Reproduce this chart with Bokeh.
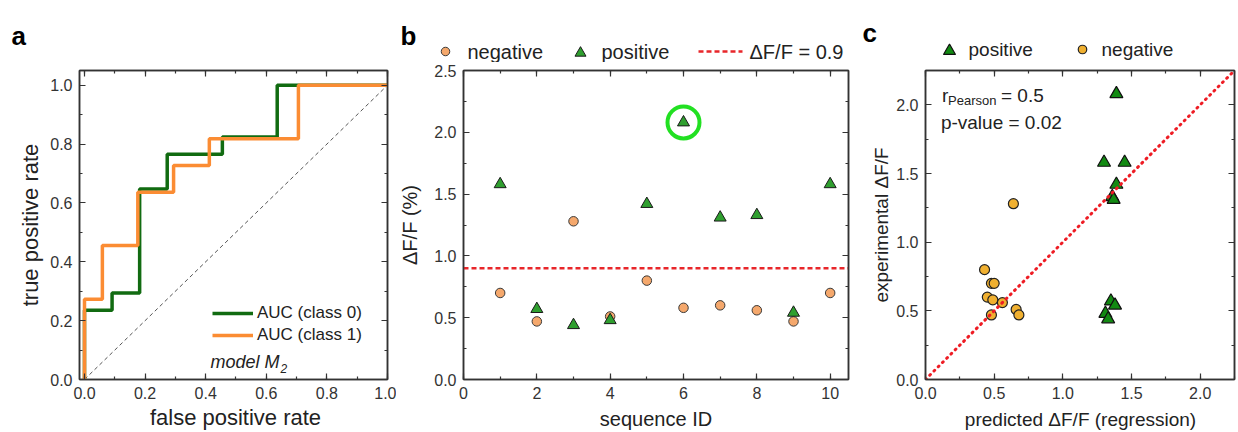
from bokeh.plotting import figure
from bokeh.layouts import row, column
from bokeh.models import (Range1d, SingleIntervalTicker, PrintfTickFormatter, LinearAxis,
                          CustomJSTickFormatter, Legend, LegendItem, Label)
from bokeh.core.properties import value
from bokeh.embed import file_html
from bokeh.resources import INLINE

FONT = "Liberation Sans"
AXC = "#333333"
TXT = "#222222"

# ---------------- panel a : ROC curves ----------------
fpr_class0 = [0.0, 0.0, 0.091, 0.182, 0.273, 0.455, 0.636, 1.0]
tpr_class0 = [0.0, 0.235, 0.294, 0.647, 0.765, 0.824, 1.0, 1.0]
fpr_class1 = [0.0, 0.0, 0.059, 0.176, 0.294, 0.412, 0.706, 1.0]
tpr_class1 = [0.0, 0.273, 0.455, 0.636, 0.727, 0.818, 1.0, 1.0]
chance_x = [0.0, 1.0]
chance_y = [0.0, 1.0]
roc_labels = ["AUC (class 0)", "AUC (class 1)"]

# ---------------- panel b : dF/F per sequence ----------------
sequence_id = [1, 2, 3, 4, 5, 6, 7, 8, 9, 10]
dff_negative = [0.70, 0.47, 1.28, 0.51, 0.80, 0.58, 0.60, 0.56, 0.47, 0.70]
dff_positive = [1.58, 0.57, 0.44, 0.48, 1.42, 2.08, 1.31, 1.33, 0.54, 1.58]
threshold = 0.9
highlight_id = 6
legend_b = ["negative", "positive", "\u0394F/F = 0.9"]

# ---------------- panel c : predicted vs experimental ----------------
pred_positive = [1.39, 1.30, 1.45, 1.39, 1.36, 1.37, 1.35, 1.38, 1.31, 1.33]
exp_positive = [2.08, 1.58, 1.58, 1.42, 1.33, 1.31, 0.57, 0.54, 0.48, 0.44]
pred_negative = [0.64, 0.43, 0.48, 0.50, 0.45, 0.49, 0.56, 0.66, 0.68, 0.48]
exp_negative = [1.28, 0.80, 0.70, 0.70, 0.60, 0.58, 0.56, 0.51, 0.47, 0.47]
r_pearson = "0.5"
p_value = "0.02"
legend_c = ["positive", "negative"]

# marker / line styles
NEG_B = dict(marker="circle", fill_color="#f5a86c", line_color="#3a3a3a", line_width=1)
POS_B = dict(marker="triangle", fill_color="#2f9f2f", line_color="#1a1a1a", line_width=1)
NEG_C = dict(marker="circle", fill_color="#f0b030", line_color="#222222", line_width=1.2)
POS_C = dict(marker="triangle", fill_color="#128a12", line_color="#111111", line_width=1.2)
THR = dict(line_color="#e8262a", line_width=2.5, line_dash="5 3")

# page geometry
W_A, W_B, W_C = 396, 455, 385
W = W_A + W_B + W_C
HH, HM, HF = 62, 344, 24     # header strip / plots / footer strip heights
TOP_B, BOT_B = 8, 27         # plot borders (frames are aligned across the row)


def strip_fig(width, height):
    s = figure(width=width, height=height, x_range=Range1d(0, width), y_range=Range1d(0, height),
               x_axis_type=None, y_axis_type=None, output_backend="svg", toolbar_location=None,
               min_border=0)
    s.grid.visible = False
    s.outline_line_color = None
    s.background_fill_color = "white"
    s.border_fill_color = "white"
    return s


def stext(p, x, y, text, size, align="left", baseline="middle", style="normal", color=TXT):
    p.add_layout(Label(x=x, y=y, text=text, text_font=FONT, text_font_size=size,
                       text_align=align, text_baseline=baseline, text_font_style=style,
                       text_color=color))


def main_fig(width, xr, yr, bl, br):
    p = figure(width=width, height=HM, x_range=Range1d(*xr), y_range=Range1d(*yr),
               output_backend="svg", toolbar_location=None,
               min_border_left=bl, min_border_right=br, min_border_top=TOP_B,
               min_border_bottom=BOT_B)
    p.grid.visible = False
    p.outline_line_color = AXC
    p.outline_line_width = 1.5
    p.background_fill_color = "white"
    p.border_fill_color = "white"
    return p


def style_axis(ax, ticker, fmt, show_labels, standoff):
    ax.ticker = ticker
    ax.formatter = fmt if show_labels else CustomJSTickFormatter(code="return ''")
    ax.axis_line_color = AXC
    ax.axis_line_width = 1.5
    ax.major_tick_line_color = AXC
    ax.minor_tick_line_color = AXC
    ax.major_tick_line_width = 1.2
    ax.minor_tick_line_width = 1.2
    ax.major_tick_in = 6
    ax.major_tick_out = 0
    ax.minor_tick_in = 3
    ax.minor_tick_out = 0
    ax.major_label_text_font = FONT
    ax.major_label_text_font_size = "16px" if show_labels else "1px"
    ax.major_label_text_color = "#333333"
    ax.major_label_standoff = standoff


def setup_axes(p, xt, yt, xfmt, yfmt, ylabel, ysize, yl_stand, x_stand=7):
    style_axis(p.xaxis[0], xt, xfmt, True, x_stand)
    style_axis(p.yaxis[0], yt, yfmt, True, 7)
    ax = p.yaxis[0]
    ax.axis_label = ylabel
    ax.axis_label_text_font = FONT
    ax.axis_label_text_font_size = ysize
    ax.axis_label_text_font_style = "normal"
    ax.axis_label_text_color = TXT
    ax.axis_label_standoff = yl_stand
    top = LinearAxis()
    style_axis(top, xt, None, False, 0)
    p.add_layout(top, "above")
    right = LinearAxis()
    style_axis(right, yt, None, False, 0)
    p.add_layout(right, "right")


def add_text(p, x, y, text, size, baseline="alphabetic", style="normal"):
    p.add_layout(Label(x=x, y=y, x_units="screen", y_units="screen", text=text,
                       text_font=FONT, text_font_size=size, text_align="left",
                       text_baseline=baseline, text_font_style=style, text_color=TXT))


def add_legend(p, renderer, label, x0, y0, gw, gh, standoff, size):
    p.add_layout(Legend(items=[LegendItem(label=value(label), renderers=[renderer])],
                        location=(x0, y0), glyph_width=gw, glyph_height=gh, label_height=gh,
                        label_standoff=standoff, label_text_font=FONT,
                        label_text_font_size=size, label_text_color=TXT,
                        padding=0, margin=0, spacing=0,
                        border_line_color=None, background_fill_color=None), "center")


# ======================= header strip (panel letters, legends b/c) =======================
hdr = strip_fig(W, HH)
for letter, lx, ly in (("a", 11, 27), ("b", 400, 27), ("c", 862, 30)):
    stext(hdr, lx, ly, letter, "26px", baseline="alphabetic", style="bold", color="#000000")
hdr.scatter([445], [11], size=8.5, **NEG_B)
stext(hdr, 467, 11, legend_b[0], "20px")
hdr.scatter([580], [9.5], size=11, **POS_B)
stext(hdr, 601, 11, legend_b[1], "20px")
hdr.line([698, 742], [11, 11], **THR)
stext(hdr, 749, 11, legend_b[2], "20px")
hdr.scatter([949], [11.5], size=12, **POS_C)
stext(hdr, 968, 13, legend_c[0], "19px")
hdr.scatter([1082], [13], size=8.5, **NEG_C)
stext(hdr, 1101, 13, legend_c[1], "19px")

# ======================= footer strip (x-axis titles) =======================
ftr = strip_fig(W, HF)
stext(ftr, 235, 13, "false positive rate", "22px", align="center")
stext(ftr, 655.5, 12, "sequence ID", "20px", align="center")
stext(ftr, 1080, 11, "predicted \u0394F/F (regression)", "19px", align="center")

# ======================= panel a =======================
pa = main_fig(W_A, (-0.0165, 1.0), (0.0, 1.05), 79, 9)
setup_axes(pa, SingleIntervalTicker(interval=0.2, num_minor_ticks=2),
           SingleIntervalTicker(interval=0.2, num_minor_ticks=2),
           PrintfTickFormatter(format="%.1f"), PrintfTickFormatter(format="%.1f"),
           "true positive rate", "22px", 4)
pa.line(chance_x, chance_y, line_color="#555555", line_width=1, line_dash="4 3")
r_c0 = pa.step(fpr_class0, tpr_class0, mode="after", line_color="#116b11", line_width=3.5)
r_c1 = pa.step(fpr_class1, tpr_class1, mode="after", line_color="#fb8c33", line_width=3.5)
add_legend(pa, r_c0, roc_labels[0], 133, 56, 41, 20, 4, "17px")
add_legend(pa, r_c1, roc_labels[1], 133, 34, 41, 20, 4, "17px")
add_text(pa, 131, 18, "model M", "18px", baseline="middle", style="italic")
add_text(pa, 201, 11, "2", "12px", baseline="middle", style="italic")

# ======================= panel b =======================
pb = main_fig(W_B, (0.0, 10.5), (0.0, 2.5), 67, 3)
setup_axes(pb, SingleIntervalTicker(interval=2, num_minor_ticks=2),
           SingleIntervalTicker(interval=0.5, num_minor_ticks=2),
           PrintfTickFormatter(format="%d"), PrintfTickFormatter(format="%.1f"),
           "\u0394F/F (%)", "20px", 10)
pb.line([pb.x_range.start, pb.x_range.end], [threshold, threshold], **THR)
pb.scatter(sequence_id, dff_negative, size=9.5, **NEG_B)
pb.scatter(sequence_id, dff_positive, size=12, **POS_B)
hi = sequence_id.index(highlight_id)
pb.scatter([sequence_id[hi]], [dff_positive[hi]], marker="circle", size=32,
           fill_alpha=0, line_color="#22e022", line_width=4)

# ======================= panel c =======================
pc = main_fig(W_C, (0.0, 2.25), (0.0, 2.25), 74, 2)
setup_axes(pc, SingleIntervalTicker(interval=0.5, num_minor_ticks=2),
           SingleIntervalTicker(interval=0.5, num_minor_ticks=2),
           PrintfTickFormatter(format="%.1f"), PrintfTickFormatter(format="%.1f"),
           "experimental \u0394F/F", "19px", 1)
pc.scatter(pred_negative, exp_negative, size=10, **NEG_C)
pc.scatter(pred_positive, exp_positive, size=13, **POS_C)
diag = [pc.x_range.start, pc.x_range.end]
pc.line(diag, diag, line_color="#ee1c24", line_width=3, line_dash="1 5", line_cap="round")
add_text(pc, 16.5, 283.7, "r", "19px")
add_text(pc, 22.5, 279.5, "Pearson", "13px")
add_text(pc, 75.5, 283.7, "= " + r_pearson, "19px")
add_text(pc, 15.4, 257, "p-value = " + p_value, "19px")

layout = column(hdr, row(pa, pb, pc), ftr)
open("out.html", "w").write(file_html(layout, INLINE))
